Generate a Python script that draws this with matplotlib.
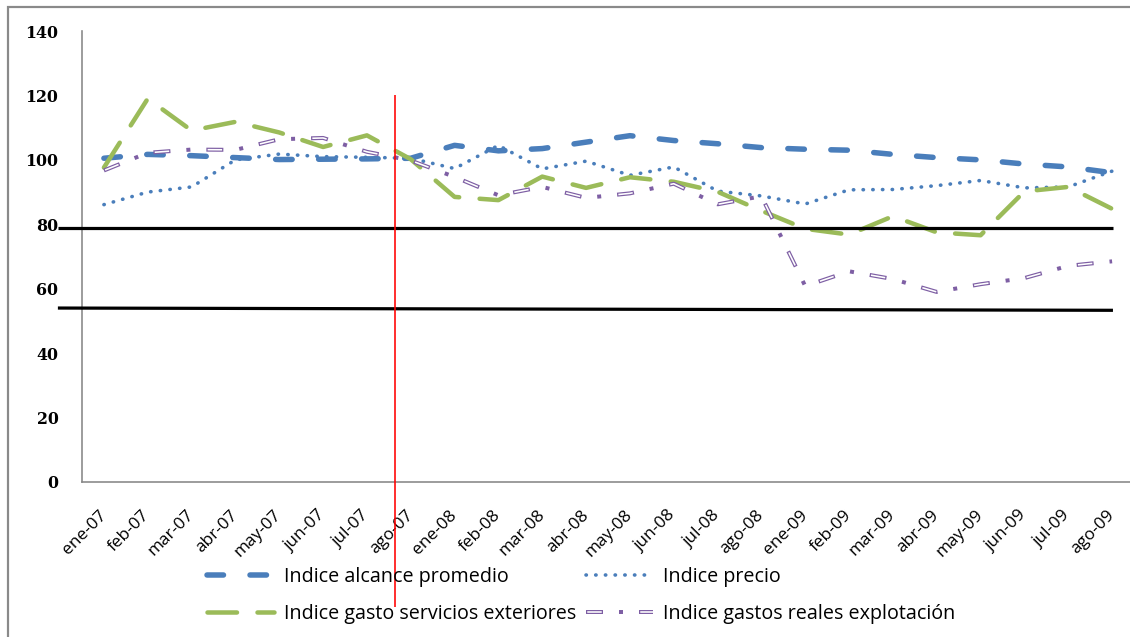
import matplotlib
matplotlib.use("Agg")
import matplotlib.pyplot as plt
from matplotlib.lines import Line2D
from matplotlib.patches import Rectangle
from matplotlib.legend_handler import HandlerTuple, HandlerLine2D

# ---- data -------------------------------------------------------------
months = ["ene-07", "feb-07", "mar-07", "abr-07", "may-07", "jun-07", "jul-07",
          "ago-07", "ene-08", "feb-08", "mar-08", "abr-08", "may-08", "jun-08",
          "jul-08", "ago-08", "ene-09", "feb-09", "mar-09", "abr-09", "may-09",
          "jun-09", "jul-09", "ago-09"]

alcance_promedio = [100.5, 101.7, 101.3, 100.7, 100.1, 100.2, 100.3, 100.5,
                    104.5, 102.8, 103.5, 105.5, 107.5, 106.0, 105.0, 103.8,
                    103.3, 103.0, 101.7, 100.7, 100.0, 98.7, 97.8, 96.0]

precio = [86.1, 90.0, 91.6, 100.0, 101.8, 101.0, 100.8, 100.5,
          97.3, 104.5, 97.2, 99.6, 95.2, 97.8, 90.3, 88.8,
          86.3, 90.7, 90.8, 92.0, 93.6, 91.3, 91.6, 96.5]

gasto_servicios_ext = [97.6, 119.0, 109.1, 111.8, 108.5, 104.0, 107.6, 100.2,
                       88.5, 87.5, 94.8, 91.3, 94.6, 93.2, 90.1, 84.2,
                       78.6, 76.8, 82.5, 77.5, 76.6, 90.2, 91.6, 84.8]

gastos_reales_expl = [96.7, 102.2, 103.2, 103.1, 106.4, 106.8, 102.5, 99.8,
                      94.7, 89.0, 91.6, 88.2, 89.6, 92.6, 86.2, 88.7,
                      60.8, 65.4, 63.0, 59.0, 61.4, 63.3, 67.1, 68.5]

labels = ["Indice alcance promedio", "Indice precio",
          "Indice gasto servicios exteriores", "Indice gastos reales explotación"]

# reference guides drawn over the chart
corte_x = 6.64                      # separation after jul-07
corte_y = (120, -38.8)
banda_sup = ((-1.05, 23.02), (78.8, 78.8))
banda_inf = ((-1.05, 23.02), (54.0, 53.3))

# ---- style --------------------------------------------------------------
BLUE = "#4A7EBB"
GREEN = "#9BBB59"
PURPLE = "#7E5FA4"
AXIS_GRAY = "#868686"

W, H, DPI = 11.3, 6.37, 100
fig = plt.figure(figsize=(W, H), dpi=DPI, facecolor="white")

# axes placement in pixels (left, bottom, right, top) of a 1130x637 canvas
L, B, R, T = 82, 155, 1134, 606
ax = fig.add_axes([L / 1130, B / 637, (R - L) / 1130, (T - B) / 637])

x = list(range(len(months)))


def pt(px):
    return px * 72.0 / DPI


# Indice alcance promedio: thick rounded dashes
lw_a = 5.5
h_alc, = ax.plot(x, alcance_promedio, color=BLUE, lw=pt(lw_a),
                 dash_capstyle="round",
                 linestyle=(0, (16.5 / lw_a, 26.5 / lw_a)), zorder=3)

# Indice precio: round dots
lw_p = 3.6
h_pre, = ax.plot(x, precio, color=BLUE, lw=pt(lw_p), dash_capstyle="round",
                 linestyle=(0, (0.1, 9.7 / lw_p - 0.1)), zorder=4)

# Indice gasto servicios exteriores: long dashes
lw_g = 4.5
h_gas, = ax.plot(x, gasto_servicios_ext, color=GREEN, lw=pt(lw_g),
                 dash_capstyle="round",
                 linestyle=(0, (29.5 / lw_g, 20.5 / lw_g)), zorder=5)

# Indice gastos reales explotación: hollow dash + dot
lw_o = 4.0
h_rea_o, = ax.plot(x, gastos_reales_expl, color=PURPLE, lw=pt(lw_o),
                   dash_capstyle="butt",
                   linestyle=(0, (17 / lw_o, 16 / lw_o, 4 / lw_o, 16 / lw_o)),
                   zorder=6)
lw_i = 1.6
h_rea_i, = ax.plot(x, gastos_reales_expl, color="white", lw=pt(lw_i),
                   dash_capstyle="butt",
                   linestyle=(51.75 / lw_i, (14.5 / lw_i, 38.5 / lw_i)),
                   zorder=7)

# guide lines
ax.plot(banda_sup[0], banda_sup[1], color="black", lw=pt(3.2), zorder=8,
        clip_on=False, solid_capstyle="butt")
ax.plot(banda_inf[0], banda_inf[1], color="black", lw=pt(3.2), zorder=8,
        clip_on=False, solid_capstyle="butt")
ax.plot([corte_x, corte_x], corte_y, color="#FF0000", lw=pt(1.6), zorder=9,
        clip_on=False, solid_capstyle="butt")

# axes
ax.set_xlim(-0.5, len(months) - 0.5)
ax.set_ylim(0, 140)
ax.set_yticks(range(0, 141, 20))
ax.set_xticks(x)
ax.set_xticklabels(months, rotation=45, ha="right", va="center",
                   rotation_mode="anchor",
                   fontfamily="Open Sans", fontsize=12.4)
for t in ax.get_yticklabels():
    t.set_fontfamily("DejaVu Serif")
    t.set_fontweight("bold")
    t.set_fontsize(11.4)
ax.tick_params(axis="y", length=0, pad=17)
ax.tick_params(axis="x", length=0, pad=22)
for side in ("top", "right"):
    ax.spines[side].set_visible(False)
for side in ("left", "bottom"):
    ax.spines[side].set_color(AXIS_GRAY)
    ax.spines[side].set_linewidth(pt(1.6))
ax.set_facecolor("none")

# legend: two rows, two columns; the hollow series overlays its two lines
leg = fig.legend([h_alc, h_gas, h_pre, (h_rea_o, h_rea_i)],
                 [labels[0], labels[2], labels[1], labels[3]],
                 handler_map={tuple: HandlerTuple(ndivide=1, pad=0),
                              Line2D: HandlerLine2D(marker_pad=0)},
                 ncol=2, loc="upper left",
                 bbox_to_anchor=(207 / 1130, 1 - 567 / 637),
                 frameon=False, prop={"family": "Open Sans", "size": 14.2},
                 handlelength=3.4, handletextpad=0.5, columnspacing=0.5,
                 labelspacing=0.85, borderaxespad=0, borderpad=0)

# outer chart frame
fig.add_artist(Rectangle((8 / 1130, -0.05), 1.2, 1 - 7 / 637 + 0.05,
                         transform=fig.transFigure, fill=False,
                         edgecolor="#8A8A8A", lw=pt(2.2), zorder=0))

fig.savefig("out.png", dpi=DPI, facecolor="white")
